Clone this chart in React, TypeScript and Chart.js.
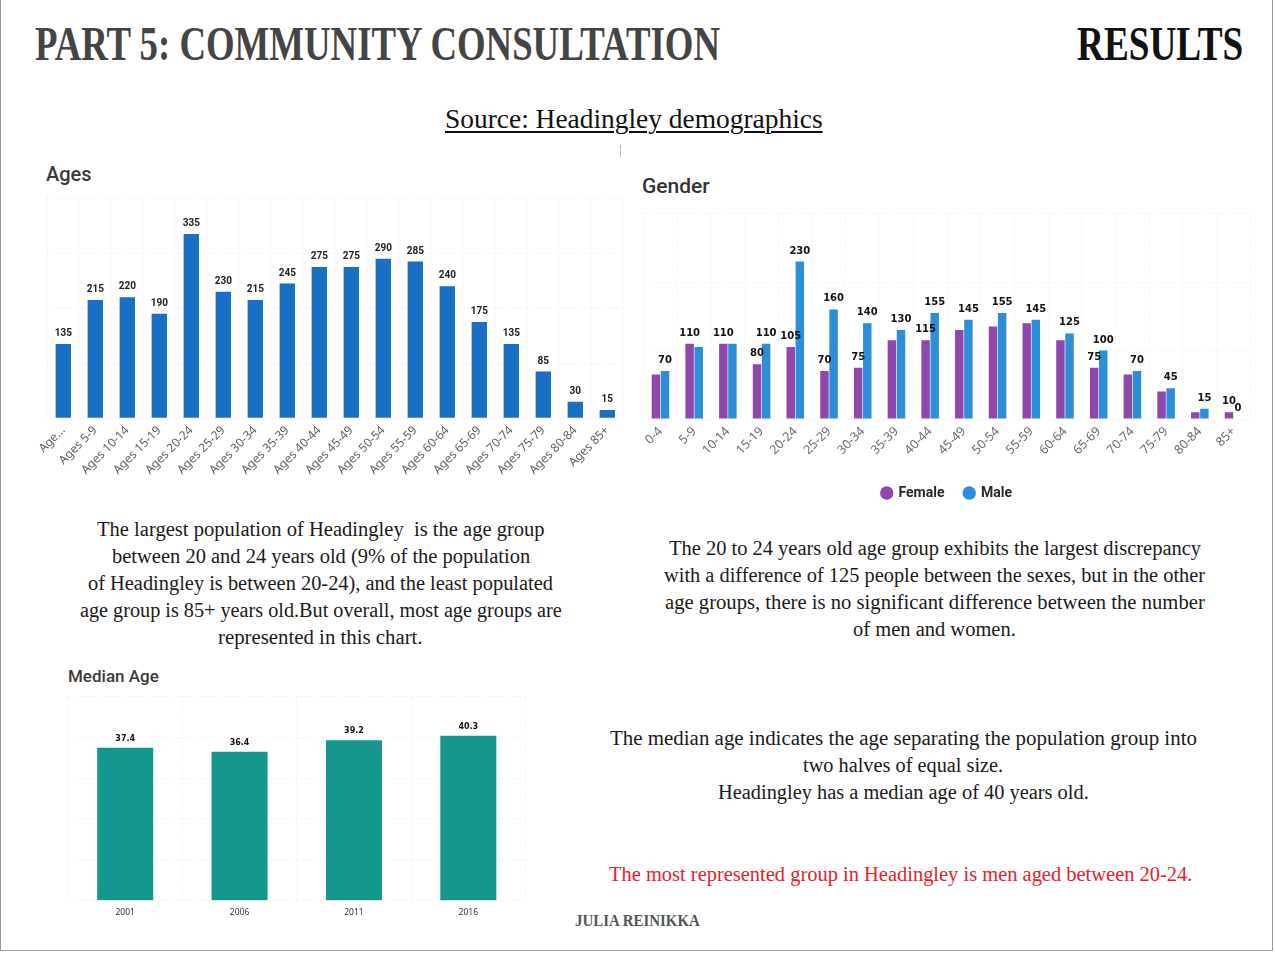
import React, { useEffect, useLayoutEffect, useRef } from "react";
import { Chart, registerables } from "chart.js";

Chart.register(...registerables);

// ---------------- DATA ----------------
const ageCategories = [
  "Ages 0-4", "Ages 5-9", "Ages 10-14", "Ages 15-19", "Ages 20-24", "Ages 25-29",
  "Ages 30-34", "Ages 35-39", "Ages 40-44", "Ages 45-49", "Ages 50-54", "Ages 55-59",
  "Ages 60-64", "Ages 65-69", "Ages 70-74", "Ages 75-79", "Ages 80-84", "Ages 85+",
];
const ageTickLabels = [
  "Age...", "Ages 5-9", "Ages 10-14", "Ages 15-19", "Ages 20-24", "Ages 25-29",
  "Ages 30-34", "Ages 35-39", "Ages 40-44", "Ages 45-49", "Ages 50-54", "Ages 55-59",
  "Ages 60-64", "Ages 65-69", "Ages 70-74", "Ages 75-79", "Ages 80-84", "Ages 85+",
];
const ageValues = [135, 215, 220, 190, 335, 230, 215, 245, 275, 275, 290, 285, 240, 175, 135, 85, 30, 15];

const genderCategories = [
  "0-4", "5-9", "10-14", "15-19", "20-24", "25-29", "30-34", "35-39", "40-44",
  "45-49", "50-54", "55-59", "60-64", "65-69", "70-74", "75-79", "80-84", "85+",
];
const femaleValues = [65, 110, 110, 80, 105, 70, 75, 115, 115, 130, 135, 140, 115, 75, 65, 40, 10, 10];
const maleValues = [70, 105, 110, 110, 230, 160, 140, 130, 155, 145, 155, 145, 125, 100, 70, 45, 15, 0];

const medianYears = ["2001", "2006", "2011", "2016"];
const medianValues = [37.4, 36.4, 39.2, 40.3];

// ---------------- TEXT ----------------
const agesText = [
  "The largest population of Headingley  is the age group",
  "between 20 and 24 years old (9% of the population",
  "of Headingley is between 20-24), and the least populated",
  "age group is 85+ years old.But overall, most age groups are",
  "represented in this chart.",
];
const genderText = [
  "The 20 to 24 years old age group exhibits the largest discrepancy",
  "with a difference of 125 people between the sexes, but in the other",
  "age groups, there is no significant difference between the number",
  "of men and women.",
];
const medianText = [
  "The median age indicates the age separating the population group into",
  "two halves of equal size.",
  "Headingley has a median age of 40 years old.",
];
const highlightText = "The most represented group in Headingley is men aged between 20-24.";

// layout boxes for text lines: [left, right, verticalCentre]
const agesTextBoxes = [[97, 545, 530], [112, 530, 557], [88, 553, 584], [80, 562, 611], [218, 423, 638]];
const genderTextBoxes = [[669, 1201, 549], [664, 1205, 576], [665, 1205, 603], [853, 1016, 630]];
const medianTextBoxes = [[610, 1197, 739], [803, 1003, 766], [718, 1089, 793]];

const AGE_BLUE = "#1a6ec3";
const FEMALE = "#8e48ad";
const MALE = "#2b8ed9";
const TEAL = "#16978d";
const GRID = "rgba(0,0,0,0.075)";

type FitProps = {
  text: string; x0: number; x1: number; top: number; size: number;
  family?: string; weight?: number | string; color?: string; underline?: boolean;
};

function FitLine({ text, x0, x1, top, size, family, weight, color, underline }: FitProps) {
  const ref = useRef<HTMLSpanElement>(null);
  useLayoutEffect(() => {
    const fit = () => {
      const el = ref.current;
      if (!el) return;
      el.style.transform = "none";
      const w = el.offsetWidth;
      if (w > 0) el.style.transform = `scaleX(${(x1 - x0) / w})`;
    };
    fit();
    const f: any = (document as any).fonts;
    if (f && f.ready) f.ready.then(fit);
  }, [text, x0, x1, size]);
  return (
    <span
      ref={ref}
      style={{
        position: "absolute",
        left: x0,
        top,
        fontSize: size,
        lineHeight: 1,
        whiteSpace: "pre",
        transformOrigin: "0 0",
        fontFamily: family || "'Liberation Serif', serif",
        fontWeight: weight || 400,
        color: color || "#1a1a1a",
        textDecoration: underline ? "underline" : "none",
        textDecorationThickness: underline ? "1.5px" : undefined,
        textUnderlineOffset: underline ? "3px" : undefined,
      }}
    >
      {text}
    </span>
  );
}

function makeLabelPlugin(
  id: string,
  font: string,
  color: string,
  offset: number,
  show: (di: number, i: number) => boolean,
  fmt: (v: number) => string
) {
  return {
    id,
    afterDatasetsDraw(chart: any) {
      const ctx = chart.ctx;
      ctx.save();
      ctx.font = font;
      ctx.fillStyle = color;
      ctx.textAlign = "center";
      ctx.textBaseline = "alphabetic";
      chart.data.datasets.forEach((ds: any, di: number) => {
        const meta = chart.getDatasetMeta(di);
        meta.data.forEach((el: any, i: number) => {
          if (!show(di, i)) return;
          ctx.fillText(fmt(ds.data[i] as number), el.x, el.y - offset);
        });
      });
      ctx.restore();
    },
  };
}

function gridScaleY(max: number, step: number) {
  return {
    min: 0,
    max,
    ticks: { display: false, stepSize: step },
    grid: { color: GRID, drawTicks: false, lineWidth: 1 },
    border: { display: false, dash: [1, 2] },
    afterFit: (s: any) => { s.width = 0; },
  };
}

function AgesChart() {
  const ref = useRef<HTMLCanvasElement>(null);
  useEffect(() => {
    if (!ref.current) return;
    const chart = new Chart(ref.current, {
      type: "bar",
      data: {
        labels: ageCategories,
        datasets: [{
          label: "Ages",
          data: ageValues,
          backgroundColor: AGE_BLUE,
          categoryPercentage: 0.48,
          barPercentage: 1,
        }],
      },
      options: {
        responsive: false,
        animation: false,
        layout: { padding: { left: 15.3, right: 9.7, top: 8.3, bottom: 0 } },
        plugins: { legend: { display: false }, tooltip: { enabled: false } },
        scales: {
          x: {
            grid: { color: GRID, drawTicks: false, offset: true },
            border: { display: false, dash: [1, 2] },
            ticks: {
              autoSkip: false, maxRotation: 45, minRotation: 45, padding: 5,
              color: "#5f5f5f", font: { family: "'Noto Sans', sans-serif", size: 12 },
              callback: (_v: any, i: number) => ageTickLabels[i],
            },
            afterFit: (s: any) => { s.height = 71.7; },
          },
          y: gridScaleY(400, 100),
        },
      } as any,
      plugins: [makeLabelPlugin("ageLabels", "bold 10px Roboto, sans-serif", "#222", 8, () => true, (v) => String(v))],
    });
    return () => chart.destroy();
  }, []);
  return <canvas ref={ref} width={601} height={300} style={{ position: "absolute", left: 32, top: 190 }} />;
}

function GenderChart() {
  const ref = useRef<HTMLCanvasElement>(null);
  useEffect(() => {
    if (!ref.current) return;
    const series = [femaleValues, maleValues];
    const show = (di: number, i: number) => {
      const v = series[di][i];
      const other = series[1 - di][i];
      return v === 0 || Math.abs(v - other) > 20 || v > other || (v === other && di === 0);
    };
    const chart = new Chart(ref.current, {
      type: "bar",
      data: {
        labels: genderCategories,
        datasets: [
          { label: "Female", data: femaleValues, backgroundColor: FEMALE, categoryPercentage: 0.54, barPercentage: 0.93 },
          { label: "Male", data: maleValues, backgroundColor: MALE, categoryPercentage: 0.54, barPercentage: 0.93 },
        ],
      },
      options: {
        responsive: false,
        animation: false,
        layout: { padding: { left: 7.6, right: 7.6, top: 13.6, bottom: 0 } },
        plugins: {
          tooltip: { enabled: false },
          legend: {
            display: true,
            position: "bottom",
            labels: {
              usePointStyle: true, pointStyle: "circle", boxWidth: 9.5, boxHeight: 9.5, padding: 20,
              color: "#2a2a2a", font: { family: "Roboto, sans-serif", size: 14, weight: "bold" },
            },
          },
        },
        scales: {
          x: {
            grid: { color: GRID, drawTicks: false, offset: true },
            border: { display: false, dash: [1, 2] },
            ticks: {
              autoSkip: false, maxRotation: 45, minRotation: 45, padding: 5,
              color: "#6a6a6a", font: { family: "'Noto Sans', sans-serif", size: 12.5 },
            },
            afterFit: (s: any) => { s.height = 47; },
          },
          y: gridScaleY(300, 100),
        },
      } as any,
      plugins: [makeLabelPlugin("genderLabels", "bold 10px 'DejaVu Sans', sans-serif", "#111", 8, show, (v) => String(v))],
    });
    return () => chart.destroy();
  }, []);
  return <canvas ref={ref} width={622} height={310} style={{ position: "absolute", left: 636, top: 200 }} />;
}

function MedianChart() {
  const ref = useRef<HTMLCanvasElement>(null);
  useEffect(() => {
    if (!ref.current) return;
    const chart = new Chart(ref.current, {
      type: "bar",
      data: {
        labels: medianYears,
        datasets: [{ label: "Median Age", data: medianValues, backgroundColor: TEAL, categoryPercentage: 0.49, barPercentage: 1 }],
      },
      options: {
        responsive: false,
        animation: false,
        layout: { padding: { left: 8, right: 9.5, top: 11.2, bottom: 0 } },
        plugins: { legend: { display: false }, tooltip: { enabled: false } },
        scales: {
          x: {
            grid: { color: GRID, drawTicks: false, offset: true },
            border: { display: false, dash: [1, 2] },
            ticks: { maxRotation: 0, padding: 7, color: "#333", font: { family: "'Noto Sans', sans-serif", size: 8.5 } },
            afterFit: (s: any) => { s.height = 19.3; },
          },
          y: gridScaleY(50, 10),
        },
      } as any,
      plugins: [makeLabelPlugin("medianLabels", "bold 8px 'DejaVu Sans', sans-serif", "#111", 7, () => true, (v) => v.toFixed(1))],
    });
    return () => chart.destroy();
  }, []);
  return <canvas ref={ref} width={475} height={235} style={{ position: "absolute", left: 60, top: 685 }} />;
}

export default function App() {
  useEffect(() => {
    document.body.style.margin = "0";
  }, []);
  const bodySize = 20;
  const t = (yc: number) => yc - bodySize * 0.56;
  return (
    <div style={{ position: "absolute", left: 0, top: 0, width: 1275, height: 953, background: "#fff", overflow: "hidden" }}>
      <div style={{
        position: "absolute", left: 0, top: 0, width: 1271, height: 950,
        borderLeft: "1px solid #9a9a9a", borderRight: "1px solid #9a9a9a", borderBottom: "1px solid #9a9a9a",
      }} />
      <FitLine text="PART 5: COMMUNITY CONSULTATION" x0={35} x1={720} top={20.4} size={48} weight={700} color="#444" />
      <FitLine text="RESULTS" x0={1077} x1={1243} top={20.4} size={48} weight={700} color="#111" />
      <FitLine text="Source: Headingley demographics" x0={445} x1={823} top={105} size={28} color="#111" underline />
      <div style={{ position: "absolute", left: 620, top: 145, width: 1, height: 12, background: "#bbb" }} />

      <div style={{ position: "absolute", left: 46, top: 164, fontFamily: "Roboto, sans-serif", fontSize: 20, fontWeight: 500, lineHeight: 1, color: "#3a3a3a" }}>Ages</div>
      <div style={{ position: "absolute", left: 642, top: 176, fontFamily: "Roboto, sans-serif", fontSize: 21, fontWeight: 500, lineHeight: 1, color: "#333" }}>Gender</div>
      <div style={{ position: "absolute", left: 68, top: 667.7, fontFamily: "Roboto, sans-serif", fontSize: 17, fontWeight: 500, lineHeight: 1, color: "#3a3a3a" }}>Median Age</div>

      <AgesChart />
      <GenderChart />
      <MedianChart />

      {agesText.map((s, i) => (
        <FitLine key={"a" + i} text={s} x0={agesTextBoxes[i][0]} x1={agesTextBoxes[i][1]} top={t(agesTextBoxes[i][2])} size={bodySize} />
      ))}
      {genderText.map((s, i) => (
        <FitLine key={"g" + i} text={s} x0={genderTextBoxes[i][0]} x1={genderTextBoxes[i][1]} top={t(genderTextBoxes[i][2])} size={bodySize} />
      ))}
      {medianText.map((s, i) => (
        <FitLine key={"m" + i} text={s} x0={medianTextBoxes[i][0]} x1={medianTextBoxes[i][1]} top={t(medianTextBoxes[i][2])} size={bodySize} />
      ))}
      <FitLine text={highlightText} x0={609} x1={1192} top={t(875)} size={bodySize} color="#e8202a" />
      <FitLine text="JULIA REINIKKA" x0={575} x1={700} top={913} size={16} weight={700} color="#555" />
    </div>
  );
}
